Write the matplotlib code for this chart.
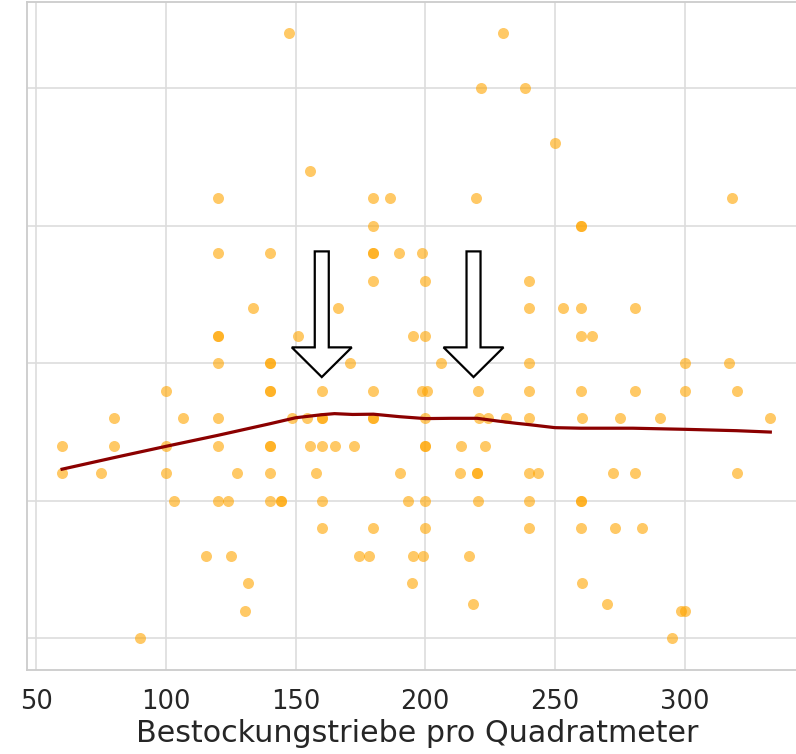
import matplotlib
matplotlib.use("Agg")
from matplotlib import pyplot as plt
from matplotlib.patches import FancyArrow

# Bestockungstriebe pro m² (x) und Zielgröße (y, ohne Achsbeschriftung)
triebe = [
    147.5, 230,
    221.3, 238.6,
    250,
    155.6,
    120, 180, 186.5, 219.6, 318.2,
    180, 260, 260,
    120, 140, 180, 180, 190, 198.8,
    180, 200, 240,
    133.5, 166.5, 240, 253, 260, 280.7,
    120, 120, 150.9, 195.2, 200, 260, 264.1,
    120, 140, 140, 170.8, 205.9, 240, 300, 317.2,
    100, 140, 140, 160, 180, 198.8, 200.6, 220.5, 240, 260, 280.7, 300, 320,
    80, 106.7, 120, 148.6, 154.5, 160, 160, 180, 180, 200, 220.9, 224, 231.2,
    240, 260.4, 274.9, 290.5, 332.7,
    60, 80, 100, 120, 140, 140, 155.7, 160, 165.2, 172.5, 200, 200, 213.7, 223.1,
    60, 75, 100, 127.5, 140, 157.8, 190.3, 213.5, 220, 220, 240, 243.3, 272.4,
    280.7, 320,
    103.3, 120, 123.9, 140, 144.5, 144.5, 160, 193.3, 200, 220.5, 240, 260, 260,
    160, 180, 200, 240, 260, 273, 283.7,
    115.5, 125.2, 174.6, 178.4, 195.2, 199.3, 216.8,
    131.5, 194.7, 260.4,
    218.5, 270.2,
    130.7, 298.6, 300.2,
    90, 295,
]
werte = [
    22, 22,
    20, 20,
    18,
    17,
    16, 16, 16, 16, 16,
    15, 15, 15,
    14, 14, 14, 14, 14, 14,
    13, 13, 13,
    12, 12, 12, 12, 12, 12,
    11, 11, 11, 11, 11, 11, 11,
    10, 10, 10, 10, 10, 10, 10, 10,
    9, 9, 9, 9, 9, 9, 9, 9, 9, 9, 9, 9, 9,
    8, 8, 8, 8, 8, 8, 8, 8, 8, 8, 8, 8, 8,
    8, 8, 8, 8, 8,
    7, 7, 7, 7, 7, 7, 7, 7, 7, 7, 7, 7, 7, 7,
    6, 6, 6, 6, 6, 6, 6, 6, 6, 6, 6, 6, 6,
    6, 6,
    5, 5, 5, 5, 5, 5, 5, 5, 5, 5, 5, 5, 5,
    4, 4, 4, 4, 4, 4, 4,
    3, 3, 3, 3, 3, 3, 3,
    2, 2, 2,
    1.24, 1.24,
    1, 1, 1,
    0, 0,
]

# geglättete Trendlinie
trend_x = [60, 80, 100, 120, 140, 150, 160, 165, 172, 180, 190, 200, 210, 220,
           228, 235, 240, 250, 260, 280, 300, 320, 333]
trend_y = [6.15, 6.57, 6.98, 7.38, 7.8, 8.02, 8.13, 8.17, 8.14, 8.15, 8.06, 7.99,
           8.0, 8.0, 7.9, 7.82, 7.77, 7.66, 7.64, 7.64, 7.6, 7.55, 7.5]

# Pfeile: x-Position, oberes Ende, Spitze
pfeil_x = [160.1, 218.6]
pfeil_oben = 14.07
pfeil_spitze = 9.5

x_ticks = [50, 100, 150, 200, 250, 300]
y_grid = [0, 5, 10, 15, 20]

fig = plt.figure(figsize=(7.96, 7.54), dpi=100)
ax = fig.add_axes([0.034, 0.111, 0.98, 0.886])

ax.scatter(triebe, werte, s=63, color="orange", alpha=0.6, linewidths=0, zorder=3)
ax.plot(trend_x, trend_y, color="darkred", lw=2.3, zorder=4)

for px in pfeil_x:
    ax.add_patch(FancyArrow(px, pfeil_oben, 0, pfeil_spitze - pfeil_oben,
                            width=5.4, head_width=23.1, head_length=1.08,
                            length_includes_head=True, facecolor="white",
                            edgecolor="black", lw=1.6, zorder=5))

ax.set_xlim(46.5, 347.2)
ax.set_ylim(-1.164, 23.13)
ax.set_xticks(x_ticks)
ax.set_yticks(y_grid)
ax.set_yticklabels([])
ax.tick_params(axis="both", length=0, labelsize=18.5, labelcolor="#262626", pad=13.5)
ax.grid(True, color="#dddddd", lw=1.2)
ax.set_axisbelow(True)
for spine in ax.spines.values():
    spine.set_color("#cccccc")
    spine.set_linewidth(1.3)

ax.set_xlabel("Bestockungstriebe pro Quadratmeter", fontsize=21.7, color="#262626", labelpad=2.5)

fig.savefig("out.png", dpi=100)
